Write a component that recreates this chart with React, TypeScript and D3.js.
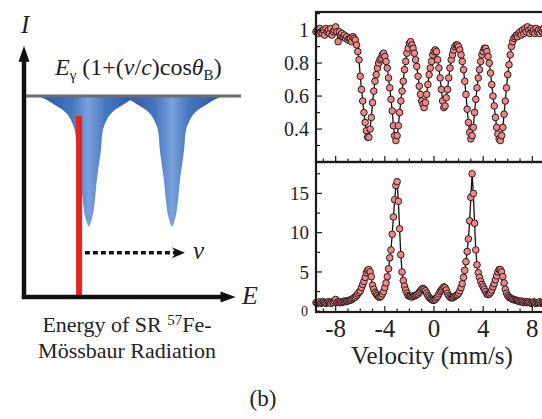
import React, { useEffect, useRef } from 'react';
import * as d3 from 'd3';

const W = 542;
const H = 419;
const serif = '"Liberation Serif", "Times New Roman", serif';

// velocity channels (mm/s): first channel and channel width
const velStart = -9.6;
const velStep = 0.1;

// upper panel: normalised transmission, one value per channel
const transmission = [
  0.99, 1.00, 0.98, 1.01, 0.99, 0.98, 1.00, 0.97, 1.01, 0.99,
  1.00, 0.98, 1.01, 0.97, 0.99, 1.00, 1.02, 0.99, 0.93, 0.99,
  0.97, 0.98, 0.96, 0.97, 0.95, 0.96, 0.94, 0.95, 0.95, 0.93,
  0.96, 0.95, 0.94, 0.91, 0.87, 0.82, 0.72, 0.64, 0.57, 0.50,
  0.44, 0.39, 0.35, 0.35, 0.40, 0.47, 0.56, 0.63, 0.69, 0.73,
  0.77, 0.80, 0.82, 0.83, 0.85, 0.86, 0.84, 0.81, 0.77, 0.71,
  0.65, 0.58, 0.51, 0.42, 0.36, 0.33, 0.36, 0.42, 0.50, 0.57,
  0.63, 0.69, 0.76, 0.81, 0.86, 0.89, 0.92, 0.93, 0.91, 0.89,
  0.86, 0.82, 0.78, 0.72, 0.66, 0.61, 0.57, 0.55, 0.53, 0.56,
  0.61, 0.67, 0.73, 0.77, 0.81, 0.85, 0.87, 0.88, 0.87, 0.82,
  0.77, 0.71, 0.64, 0.57, 0.53, 0.54, 0.59, 0.64, 0.71, 0.77,
  0.82, 0.85, 0.88, 0.90, 0.91, 0.91, 0.90, 0.88, 0.85, 0.81,
  0.76, 0.69, 0.61, 0.52, 0.44, 0.38, 0.34, 0.36, 0.41, 0.50,
  0.58, 0.65, 0.71, 0.76, 0.81, 0.85, 0.87, 0.89, 0.89, 0.87,
  0.84, 0.80, 0.74, 0.67, 0.60, 0.54, 0.47, 0.41, 0.37, 0.34,
  0.33, 0.36, 0.41, 0.49, 0.57, 0.65, 0.73, 0.79, 0.85, 0.90,
  0.93, 0.95, 0.96, 0.97, 0.96, 0.98, 0.99, 0.97, 1.00, 0.98,
  1.01, 0.99, 1.02, 1.00, 0.98, 1.01, 0.99, 1.00, 0.98, 1.01,
  0.99, 1.00, 0.98, 1.00, 0.99, 1.01, 0.99, 1.00, 0.98, 1.00,
  0.99, 1.00, 0.99,
];

// lower panel: counts, one value per channel
const counts = [
  1.1, 1.0, 1.1, 1.2, 1.0, 1.1, 1.2, 1.1, 1.0, 1.1,
  1.2, 1.1, 1.0, 1.2, 1.1, 1.3, 1.5, 1.1, 1.2, 1.1,
  1.2, 1.1, 1.2, 1.3, 1.2, 1.3, 1.3, 1.4, 1.4, 1.5,
  1.6, 1.7, 1.8, 2.0, 2.2, 2.4, 2.6, 3.0, 3.4, 3.8,
  4.3, 4.9, 5.2, 5.3, 5.0, 4.4, 3.3, 2.8, 2.4, 2.2,
  2.0, 1.8, 1.8, 1.9, 2.2, 2.5, 3.0, 3.6, 4.4, 5.4,
  6.8, 7.8, 9.8, 12.0, 14.2, 16.0, 16.5, 14.0, 10.5, 7.2,
  5.0, 3.9, 3.2, 2.7, 2.3, 2.0, 1.9, 1.9, 1.8, 1.9,
  2.0, 2.0, 2.1, 2.2, 2.4, 2.6, 2.8, 2.9, 2.8, 2.6,
  2.3, 2.0, 1.8, 1.6, 1.5, 1.4, 1.4, 1.5, 1.7, 1.9,
  2.2, 2.5, 2.7, 2.9, 3.1, 3.0, 2.7, 2.3, 2.0, 1.8,
  1.7, 1.7, 1.8, 1.9, 2.0, 2.1, 2.3, 2.6, 3.0, 3.5,
  4.3, 5.2, 6.3, 7.6, 9.2, 11.5, 14.5, 17.5, 15.0, 11.2,
  7.8, 5.9, 4.9, 4.3, 3.8, 3.4, 3.1, 2.8, 2.5, 2.2,
  2.1, 2.2, 2.4, 2.7, 3.1, 3.5, 4.0, 4.5, 5.0, 5.3,
  5.3, 5.0, 4.4, 3.6, 2.8, 2.3, 2.0, 1.8, 1.7, 1.6,
  1.5, 1.5, 1.4, 1.4, 1.3, 1.3, 1.2, 1.3, 1.2, 1.1,
  1.2, 1.2, 1.1, 1.2, 1.1, 1.0, 1.1, 1.2, 1.1, 1.0,
  1.1, 1.1, 1.2, 1.0, 1.1, 1.1, 1.0, 1.1, 1.2, 1.1,
  1.0, 1.1, 1.1,
];

const velTicks = [-8, -4, 0, 4, 8];
const topTicks = [1, 0.8, 0.6, 0.4];
const topTickLabels = ['1', '0.8', '0.6', '0.4'];
const bottomTicks = [15, 10, 5];

// schematic (arbitrary units, 0..100 on both axes)
const dipCenters = [30, 68.5];
const dipDepth = [0, 1, 2, 4.5, 7, 9.5, 12, 17, 27, 42, 52, 59, 65];
const dipHalfWidth = [23, 21.3, 19.4, 15.7, 12, 9.7, 8.3, 6.5, 5.6, 3.7, 2.8, 1.9, 0];
const redLineE = 25.5;
const shiftArrow = [28.2, 74.5];
const shiftArrowI = 22;

const App = () => {
  const svgRef = useRef(null);

  useEffect(() => {
    const svg = d3.select(svgRef.current);
    svg.selectAll('*').remove();

    const defs = svg.append('defs');
    const grad = defs.append('linearGradient')
      .attr('id', 'dipGrad')
      .attr('x1', 0).attr('x2', 1).attr('y1', 0).attr('y2', 0);
    [[0, '#2a54a6'], [0.33, '#4676c0'], [0.5, '#79a2dc'], [0.67, '#4676c0'], [1, '#2a54a6']]
      .forEach(([o, c]) => grad.append('stop').attr('offset', o).attr('stop-color', c));

    // ---------- left: schematic ----------
    const eScale = d3.scaleLinear().domain([0, 100]).range([24, 240]);
    const iScale = d3.scaleLinear().domain([0, 100]).range([297, 96]);

    const dipLine = d3.line()
      .x(d => eScale(d[0]))
      .y(d => iScale(d[1]))
      .curve(d3.curveCatmullRom.alpha(0.5));

    dipCenters.forEach(c => {
      const left = dipDepth.map((dp, i) => [c - dipHalfWidth[i], 100 - dp]);
      const right = dipDepth.slice(0, -1).map((dp, i) => [c + dipHalfWidth[i], 100 - dp]).reverse();
      svg.append('path')
        .attr('d', dipLine(left.concat(right)) + 'Z')
        .attr('fill', 'url(#dipGrad)');
    });

    // red line (SR energy)
    svg.append('line')
      .attr('x1', eScale(redLineE)).attr('x2', eScale(redLineE))
      .attr('y1', iScale(90)).attr('y2', iScale(0))
      .attr('stroke', '#e8231d').attr('stroke-width', 6);

    // baseline
    svg.append('line')
      .attr('x1', eScale(0)).attr('x2', eScale(100.5))
      .attr('y1', iScale(100)).attr('y2', iScale(100))
      .attr('stroke', '#6e6e6e').attr('stroke-width', 3);

    // axes with arrows
    svg.append('line')
      .attr('x1', eScale(0)).attr('x2', eScale(0))
      .attr('y1', iScale(-0.8)).attr('y2', iScale(118))
      .attr('stroke', '#111').attr('stroke-width', 4.5);
    svg.append('path')
      .attr('d', `M${eScale(0)},${iScale(125)} L${eScale(0) - 5.5},${iScale(117)} L${eScale(0) + 5.5},${iScale(117)} Z`)
      .attr('fill', '#111');
    svg.append('line')
      .attr('x1', eScale(-1)).attr('x2', eScale(92))
      .attr('y1', iScale(0)).attr('y2', iScale(0))
      .attr('stroke', '#111').attr('stroke-width', 4.5);
    svg.append('path')
      .attr('d', `M${eScale(98)},${iScale(0)} L${eScale(91)},${iScale(0) - 5.5} L${eScale(91)},${iScale(0) + 5.5} Z`)
      .attr('fill', '#111');

    // dashed shift arrow
    const ay = iScale(shiftArrowI);
    const ax0 = eScale(shiftArrow[0]);
    const ax1 = eScale(shiftArrow[1]);
    svg.append('line')
      .attr('x1', ax0).attr('x2', ax1 - 6)
      .attr('y1', ay).attr('y2', ay)
      .attr('stroke', '#111').attr('stroke-width', 3.5)
      .attr('stroke-dasharray', '5,3');
    svg.append('path')
      .attr('d', `M${ax1},${ay} L${ax1 - 13},${ay - 5.5} L${ax1 - 9},${ay} L${ax1 - 13},${ay + 5.5} Z`)
      .attr('fill', '#111');

    const txt = (x, y, size, str) => svg.append('text')
      .attr('x', x).attr('y', y)
      .attr('font-family', serif).attr('font-size', size)
      .attr('fill', '#222')
      .text(str);

    txt(21, 33, 25, 'I').attr('font-style', 'italic');
    txt(242, 304, 26, 'E').attr('font-style', 'italic');
    txt(193, 259, 25, 'v').attr('font-style', 'italic');

    // formula
    const f = txt(55, 75, 24, null);
    f.append('tspan').attr('font-style', 'italic').text('E');
    f.append('tspan').attr('font-size', 15).attr('dy', 5).text('γ');
    f.append('tspan').attr('dy', -5).text(' (1+(');
    f.append('tspan').attr('font-style', 'italic').text('v');
    f.append('tspan').text('/');
    f.append('tspan').attr('font-style', 'italic').text('c');
    f.append('tspan').text(')cos');
    f.append('tspan').attr('font-style', 'italic').text('θ');
    f.append('tspan').attr('font-size', 15).attr('dy', 5).text('B');
    f.append('tspan').attr('dy', -5).text(')');

    // caption
    const c1 = txt(127, 332, 22, null).attr('text-anchor', 'middle');
    c1.append('tspan').text('Energy of SR ');
    c1.append('tspan').attr('font-size', 15).attr('dy', -7).text('57');
    c1.append('tspan').attr('dy', 7).text('Fe-');
    txt(127, 358, 22, 'Mössbaur Radiation').attr('text-anchor', 'middle');

    txt(263, 406, 23, '(b)').attr('text-anchor', 'middle');

    // ---------- right: spectra ----------
    const x = d3.scaleLinear().domain([-9.6, 9.6]).range([316, 552]);
    const yTop = d3.scaleLinear().domain([0.2, 1.11]).range([162, 12]);
    const yBot = d3.scaleLinear().domain([-0.1, 19]).range([312, 162]);
    const vel = (i) => velStart + i * velStep;

    const drawPanel = (values, y, yMajor, yMinorStep, labels, labelSize) => {
      const [y0, y1] = y.range();
      const g = svg.append('g');
      // data line + markers
      const line = d3.line()
        .x((d, i) => x(vel(i)))
        .y(d => y(d));
      g.append('path')
        .attr('d', line(values))
        .attr('fill', 'none').attr('stroke', '#111').attr('stroke-width', 1.3);
      g.selectAll('circle')
        .data(values)
        .enter()
        .append('circle')
        .attr('cx', (d, i) => x(vel(i)))
        .attr('cy', d => y(d))
        .attr('r', 3.3)
        .attr('fill', '#f28585')
        .attr('stroke', '#2a1c1c')
        .attr('stroke-width', 1);

      // frame
      g.append('rect')
        .attr('x', x.range()[0]).attr('y', y1)
        .attr('width', x.range()[1] - x.range()[0]).attr('height', y0 - y1)
        .attr('fill', 'none').attr('stroke', '#1a1a1a').attr('stroke-width', 2.2);

      // x ticks (inside, bottom)
      d3.range(-9, 10, 1).forEach(v => {
        const len = v % 4 === 0 ? 6 : 3.5;
        g.append('line')
          .attr('x1', x(v)).attr('x2', x(v))
          .attr('y1', y0).attr('y2', y0 - len)
          .attr('stroke', '#1a1a1a').attr('stroke-width', 1.2);
      });
      // y ticks (inside, left)
      const [d0, d1] = y.domain();
      const minor = d3.range(Math.ceil(d0 / yMinorStep - 1e-6) * yMinorStep, d1, yMinorStep);
      minor.forEach(v => {
        const major = yMajor.some(m => Math.abs(m - v) < 1e-6);
        g.append('line')
          .attr('x1', x.range()[0]).attr('x2', x.range()[0] + (major ? 6 : 4))
          .attr('y1', y(v)).attr('y2', y(v))
          .attr('stroke', '#1a1a1a').attr('stroke-width', 1.2);
      });
      yMajor.forEach((v, i) => {
        txt(309, y(v), labelSize, labels[i])
          .attr('dy', '0.35em')
          .attr('text-anchor', 'end');
      });
    };

    drawPanel(transmission, yTop, topTicks, 0.1, topTickLabels, 20);
    drawPanel(counts, yBot, bottomTicks, 2.5, bottomTicks.map(String), 19);

    // small zero label of lower panel
    txt(308, yBot(0), 14, '0').attr('dy', '0.35em').attr('text-anchor', 'end');

    // velocity tick labels
    velTicks.forEach(v => {
      txt(x(v), 337, 25, v < 0 ? `-${Math.abs(v)}` : `${v}`).attr('text-anchor', 'middle');
    });
    txt(432, 364, 25, 'Velocity (mm/s)').attr('text-anchor', 'middle');
  }, []);

  return (
    <svg
      ref={svgRef}
      width={W}
      height={H}
      style={{ position: 'absolute', left: 0, top: 0, background: '#fff' }}
    />
  );
};

export default App;
